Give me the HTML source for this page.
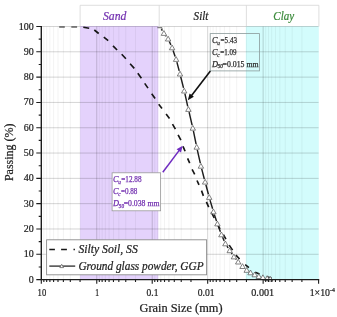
<!DOCTYPE html><html><head><meta charset="utf-8"><title>Grain size</title>
<style>html,body{margin:0;padding:0;background:#fff}svg{display:block}text{font-family:"Liberation Serif",serif;fill:#222;stroke:#222;stroke-width:.22px}</style></head><body>
<svg width="337" height="317" viewBox="0 0 337 317">
<rect width="337" height="317" fill="#fff"/>
<rect x="80.1" y="26.0" width="78.2" height="253.6" fill="#e4d2fc"/>
<rect x="245.8" y="26.2" width="73.0" height="253.4" fill="#d3fcfc"/>
<line x1="80.06" x2="80.06" y1="26.5" y2="279.6" stroke="#000" stroke-opacity="0.08" stroke-width="0.7"/>
<line x1="70.30" x2="70.30" y1="26.5" y2="279.6" stroke="#000" stroke-opacity="0.08" stroke-width="0.7"/>
<line x1="63.37" x2="63.37" y1="26.5" y2="279.6" stroke="#000" stroke-opacity="0.08" stroke-width="0.7"/>
<line x1="58.00" x2="58.00" y1="26.5" y2="279.6" stroke="#000" stroke-opacity="0.08" stroke-width="0.7"/>
<line x1="53.60" x2="53.60" y1="26.5" y2="279.6" stroke="#000" stroke-opacity="0.08" stroke-width="0.7"/>
<line x1="49.89" x2="49.89" y1="26.5" y2="279.6" stroke="#000" stroke-opacity="0.08" stroke-width="0.7"/>
<line x1="46.67" x2="46.67" y1="26.5" y2="279.6" stroke="#000" stroke-opacity="0.08" stroke-width="0.7"/>
<line x1="43.84" x2="43.84" y1="26.5" y2="279.6" stroke="#000" stroke-opacity="0.08" stroke-width="0.7"/>
<line x1="135.52" x2="135.52" y1="26.5" y2="279.6" stroke="#000" stroke-opacity="0.08" stroke-width="0.7"/>
<line x1="125.76" x2="125.76" y1="26.5" y2="279.6" stroke="#000" stroke-opacity="0.08" stroke-width="0.7"/>
<line x1="118.83" x2="118.83" y1="26.5" y2="279.6" stroke="#000" stroke-opacity="0.08" stroke-width="0.7"/>
<line x1="113.46" x2="113.46" y1="26.5" y2="279.6" stroke="#000" stroke-opacity="0.08" stroke-width="0.7"/>
<line x1="109.06" x2="109.06" y1="26.5" y2="279.6" stroke="#000" stroke-opacity="0.08" stroke-width="0.7"/>
<line x1="105.35" x2="105.35" y1="26.5" y2="279.6" stroke="#000" stroke-opacity="0.08" stroke-width="0.7"/>
<line x1="102.13" x2="102.13" y1="26.5" y2="279.6" stroke="#000" stroke-opacity="0.08" stroke-width="0.7"/>
<line x1="99.30" x2="99.30" y1="26.5" y2="279.6" stroke="#000" stroke-opacity="0.08" stroke-width="0.7"/>
<line x1="190.98" x2="190.98" y1="26.5" y2="279.6" stroke="#000" stroke-opacity="0.08" stroke-width="0.7"/>
<line x1="181.22" x2="181.22" y1="26.5" y2="279.6" stroke="#000" stroke-opacity="0.08" stroke-width="0.7"/>
<line x1="174.29" x2="174.29" y1="26.5" y2="279.6" stroke="#000" stroke-opacity="0.08" stroke-width="0.7"/>
<line x1="168.92" x2="168.92" y1="26.5" y2="279.6" stroke="#000" stroke-opacity="0.08" stroke-width="0.7"/>
<line x1="164.52" x2="164.52" y1="26.5" y2="279.6" stroke="#000" stroke-opacity="0.08" stroke-width="0.7"/>
<line x1="160.81" x2="160.81" y1="26.5" y2="279.6" stroke="#000" stroke-opacity="0.08" stroke-width="0.7"/>
<line x1="157.59" x2="157.59" y1="26.5" y2="279.6" stroke="#000" stroke-opacity="0.08" stroke-width="0.7"/>
<line x1="154.76" x2="154.76" y1="26.5" y2="279.6" stroke="#000" stroke-opacity="0.08" stroke-width="0.7"/>
<line x1="246.44" x2="246.44" y1="26.5" y2="279.6" stroke="#000" stroke-opacity="0.08" stroke-width="0.7"/>
<line x1="236.68" x2="236.68" y1="26.5" y2="279.6" stroke="#000" stroke-opacity="0.08" stroke-width="0.7"/>
<line x1="229.75" x2="229.75" y1="26.5" y2="279.6" stroke="#000" stroke-opacity="0.08" stroke-width="0.7"/>
<line x1="224.38" x2="224.38" y1="26.5" y2="279.6" stroke="#000" stroke-opacity="0.08" stroke-width="0.7"/>
<line x1="219.98" x2="219.98" y1="26.5" y2="279.6" stroke="#000" stroke-opacity="0.08" stroke-width="0.7"/>
<line x1="216.27" x2="216.27" y1="26.5" y2="279.6" stroke="#000" stroke-opacity="0.08" stroke-width="0.7"/>
<line x1="213.05" x2="213.05" y1="26.5" y2="279.6" stroke="#000" stroke-opacity="0.08" stroke-width="0.7"/>
<line x1="210.22" x2="210.22" y1="26.5" y2="279.6" stroke="#000" stroke-opacity="0.08" stroke-width="0.7"/>
<line x1="301.90" x2="301.90" y1="26.5" y2="279.6" stroke="#000" stroke-opacity="0.08" stroke-width="0.7"/>
<line x1="292.14" x2="292.14" y1="26.5" y2="279.6" stroke="#000" stroke-opacity="0.08" stroke-width="0.7"/>
<line x1="285.21" x2="285.21" y1="26.5" y2="279.6" stroke="#000" stroke-opacity="0.08" stroke-width="0.7"/>
<line x1="279.84" x2="279.84" y1="26.5" y2="279.6" stroke="#000" stroke-opacity="0.08" stroke-width="0.7"/>
<line x1="275.44" x2="275.44" y1="26.5" y2="279.6" stroke="#000" stroke-opacity="0.08" stroke-width="0.7"/>
<line x1="271.73" x2="271.73" y1="26.5" y2="279.6" stroke="#000" stroke-opacity="0.08" stroke-width="0.7"/>
<line x1="268.51" x2="268.51" y1="26.5" y2="279.6" stroke="#000" stroke-opacity="0.08" stroke-width="0.7"/>
<line x1="265.68" x2="265.68" y1="26.5" y2="279.6" stroke="#000" stroke-opacity="0.08" stroke-width="0.7"/>
<line x1="96.76" x2="96.76" y1="26.5" y2="279.6" stroke="#000" stroke-opacity="0.21" stroke-width="0.8"/>
<line x1="152.22" x2="152.22" y1="26.5" y2="279.6" stroke="#000" stroke-opacity="0.21" stroke-width="0.8"/>
<line x1="207.68" x2="207.68" y1="26.5" y2="279.6" stroke="#000" stroke-opacity="0.21" stroke-width="0.8"/>
<line x1="263.14" x2="263.14" y1="26.5" y2="279.6" stroke="#000" stroke-opacity="0.21" stroke-width="0.8"/>
<line x1="41.3" x2="318.6" y1="254.29" y2="254.29" stroke="#000" stroke-opacity="0.21" stroke-width="0.8"/>
<line x1="41.3" x2="318.6" y1="228.98" y2="228.98" stroke="#000" stroke-opacity="0.21" stroke-width="0.8"/>
<line x1="41.3" x2="318.6" y1="203.67" y2="203.67" stroke="#000" stroke-opacity="0.21" stroke-width="0.8"/>
<line x1="41.3" x2="318.6" y1="178.36" y2="178.36" stroke="#000" stroke-opacity="0.21" stroke-width="0.8"/>
<line x1="41.3" x2="318.6" y1="153.05" y2="153.05" stroke="#000" stroke-opacity="0.21" stroke-width="0.8"/>
<line x1="41.3" x2="318.6" y1="127.74" y2="127.74" stroke="#000" stroke-opacity="0.21" stroke-width="0.8"/>
<line x1="41.3" x2="318.6" y1="102.43" y2="102.43" stroke="#000" stroke-opacity="0.21" stroke-width="0.8"/>
<line x1="41.3" x2="318.6" y1="77.12" y2="77.12" stroke="#000" stroke-opacity="0.21" stroke-width="0.8"/>
<line x1="41.3" x2="318.6" y1="51.81" y2="51.81" stroke="#000" stroke-opacity="0.21" stroke-width="0.8"/>
<line x1="41.3" x2="318.6" y1="26.50" y2="26.50" stroke="#000" stroke-opacity="0.21" stroke-width="0.8"/>
<path d="M80.1 26.5 V5.3 H318.9 V26.5 M159.2 5.3 V26.5 M246.4 5.3 V26.5" fill="none" stroke="#d6d6d6" stroke-width="0.8"/>
<text x="114.7" y="19.8" font-size="12.4" font-style="italic" text-anchor="middle" textLength="23.4" lengthAdjust="spacingAndGlyphs" style="fill:#7331b0;stroke:#7331b0">Sand</text>
<text x="201" y="19.7" font-size="12.4" font-style="italic" text-anchor="middle" textLength="14.8" lengthAdjust="spacingAndGlyphs">Silt</text>
<text x="283.7" y="19.8" font-size="12.4" font-style="italic" text-anchor="middle" textLength="20.8" lengthAdjust="spacingAndGlyphs" style="fill:#3a8a3a;stroke:#3a8a3a">Clay</text>
<path d="M59.2 27 H64.8 M71.3 27 H77.1" fill="none" stroke="#161616" stroke-width="1.15"/>
<path d="M83.3 27.3 L89.2 28.3 M94.3 30.0 L98.7 33.5 M103.8 37.1 L108.2 40.6 M113 45.9 L117.1 50 M121.7 54.2 L125.9 58.7 M130.1 63.8 L134.3 68.4 M137.8 73.2 L141.4 78.2 M144.7 83.4 L148 88.1 M151.7 93.7 L155.1 98.4 M158.7 104.3 L162 108.4 M166.1 114 L169.5 118.6 M172.5 124.2 L175.4 129.2 M178.1 134.8 L180.9 140.1 M183 146.4 L185.1 151.3 M187.6 158.4 L189.7 163.1 M192.1 169.3 L194.7 174.3 M197 180.5 L199 184.8 M201.5 190.6 L203.4 195.9 M206.4 201.8 L208.7 207.1 M211.4 212.1 L214.2 218 M217.2 223.8 L220 229 M223.4 234.7 L225.9 239.2 M229.2 245.1 L232.6 250.1 M235.9 255.1 L239.6 259 M245.2 264.7 L248.9 267.6 M255.2 272.3 L259.5 274.1 M266.7 276.7 L271.6 278.2" fill="none" stroke="#161616" stroke-width="1.65"/>
<path d="M161.4 29.1 L162.3 30.7 M165.7 35.6 L166.3 36.4 M169.3 41.5 L170.9 44.9 M173.1 50.4 L175.1 56.4 M176.9 62.1 L179.2 70.9 M180.7 76.7 L183.5 87.9 M184.9 93.7 L187.7 106.3 M189.1 112.1 L192.1 125.1 M193.4 130.9 L196.1 144.1 M197.3 149.9 L200.3 163.1 M201.7 168.9 L204.3 179.0 M205.9 184.8 L208.4 194.3 M210.0 200.1 L212.6 208.7 M214.3 214.4 L216.5 220.9 M218.4 226.5 L220.4 231.8 M222.6 237.3 L224.2 240.9 M227.0 246.1 L228.1 248.0 M231.4 253.0 L232.2 254.2 M235.8 259.0 L236.3 259.5" fill="none" stroke="#1e1e1e" stroke-width="1.45"/>
<path d="M157.3 27.7 H162 V29.6" fill="none" stroke="#555" stroke-width="0.9"/>
<path d="M163.9 30.6 L166.6 35.4 L161.2 35.4 Z" fill="#fff" stroke="#5a5a5a" stroke-width="0.75"/>
<path d="M168.1 36.2 L170.8 41.0 L165.4 41.0 Z" fill="#fff" stroke="#5a5a5a" stroke-width="0.75"/>
<path d="M172.1 45.0 L174.8 49.8 L169.4 49.8 Z" fill="#fff" stroke="#5a5a5a" stroke-width="0.75"/>
<path d="M176.1 56.6 L178.8 61.4 L173.4 61.4 Z" fill="#fff" stroke="#5a5a5a" stroke-width="0.75"/>
<path d="M180.0 71.2 L182.7 76.0 L177.3 76.0 Z" fill="#fff" stroke="#5a5a5a" stroke-width="0.75"/>
<path d="M184.2 88.2 L186.9 93.0 L181.5 93.0 Z" fill="#fff" stroke="#5a5a5a" stroke-width="0.75"/>
<path d="M188.4 106.6 L191.1 111.4 L185.7 111.4 Z" fill="#fff" stroke="#5a5a5a" stroke-width="0.75"/>
<path d="M192.8 125.4 L195.5 130.2 L190.1 130.2 Z" fill="#fff" stroke="#5a5a5a" stroke-width="0.75"/>
<path d="M196.7 144.4 L199.4 149.2 L194.0 149.2 Z" fill="#fff" stroke="#5a5a5a" stroke-width="0.75"/>
<path d="M200.9 163.4 L203.6 168.2 L198.2 168.2 Z" fill="#fff" stroke="#5a5a5a" stroke-width="0.75"/>
<path d="M205.1 179.3 L207.8 184.1 L202.4 184.1 Z" fill="#fff" stroke="#5a5a5a" stroke-width="0.75"/>
<path d="M209.2 194.6 L211.9 199.4 L206.5 199.4 Z" fill="#fff" stroke="#5a5a5a" stroke-width="0.75"/>
<path d="M213.4 209.0 L216.1 213.8 L210.7 213.8 Z" fill="#fff" stroke="#5a5a5a" stroke-width="0.75"/>
<path d="M217.4 221.1 L220.1 225.9 L214.7 225.9 Z" fill="#fff" stroke="#5a5a5a" stroke-width="0.75"/>
<path d="M221.4 232.0 L224.1 236.8 L218.7 236.8 Z" fill="#fff" stroke="#5a5a5a" stroke-width="0.75"/>
<path d="M225.4 241.0 L228.1 245.8 L222.7 245.8 Z" fill="#fff" stroke="#5a5a5a" stroke-width="0.75"/>
<path d="M229.7 247.9 L232.4 252.7 L227.0 252.7 Z" fill="#fff" stroke="#5a5a5a" stroke-width="0.75"/>
<path d="M233.9 254.1 L236.6 258.9 L231.2 258.9 Z" fill="#fff" stroke="#5a5a5a" stroke-width="0.75"/>
<path d="M238.2 259.2 L240.9 264.0 L235.5 264.0 Z" fill="#fff" stroke="#5a5a5a" stroke-width="0.75"/>
<path d="M242.5 263.7 L245.2 268.5 L239.8 268.5 Z" fill="#fff" stroke="#5a5a5a" stroke-width="0.75"/>
<path d="M246.7 267.5 L249.4 272.3 L244.0 272.3 Z" fill="#fff" stroke="#5a5a5a" stroke-width="0.75"/>
<path d="M250.5 270.0 L253.2 274.8 L247.8 274.8 Z" fill="#fff" stroke="#5a5a5a" stroke-width="0.75"/>
<path d="M254.7 272.0 L257.4 276.8 L252.0 276.8 Z" fill="#fff" stroke="#5a5a5a" stroke-width="0.75"/>
<path d="M258.8 273.7 L261.5 278.5 L256.1 278.5 Z" fill="#fff" stroke="#5a5a5a" stroke-width="0.75"/>
<path d="M262.9 274.8 L265.6 279.6 L260.2 279.6 Z" fill="#fff" stroke="#5a5a5a" stroke-width="0.75"/>
<path d="M267.2 275.7 L269.9 280.5 L264.5 280.5 Z" fill="#fff" stroke="#5a5a5a" stroke-width="0.75"/>
<path d="M270.2 276.3 L272.9 281.1 L267.5 281.1 Z" fill="#fff" stroke="#5a5a5a" stroke-width="0.75"/>
<rect x="210.2" y="33.6" width="49.2" height="37.3" fill="none" stroke="#8a9a9a" stroke-width="0.8"/>
<text x="212" y="43" font-size="8.4" font-style="italic" style="fill:#2e2e2e;stroke:#2e2e2e;stroke-width:0.25px">C</text>
<text x="217.2" y="44.7" font-size="5.2" font-style="italic" style="fill:#2e2e2e;stroke:#2e2e2e;stroke-width:0.25px">u</text>
<text x="220.6" y="43" font-size="8.2" style="fill:#2e2e2e;stroke:#2e2e2e;stroke-width:0.25px" textLength="16.4" lengthAdjust="spacingAndGlyphs">=5.43</text>
<text x="212" y="54.9" font-size="8.4" font-style="italic" style="fill:#2e2e2e;stroke:#2e2e2e;stroke-width:0.25px">C</text>
<text x="217.2" y="56.6" font-size="5.2" font-style="italic" style="fill:#2e2e2e;stroke:#2e2e2e;stroke-width:0.25px">c</text>
<text x="220.2" y="54.9" font-size="8.2" style="fill:#2e2e2e;stroke:#2e2e2e;stroke-width:0.25px" textLength="16.2" lengthAdjust="spacingAndGlyphs">=1.09</text>
<text x="212" y="66.5" font-size="8.4" font-style="italic" style="fill:#2e2e2e;stroke:#2e2e2e;stroke-width:0.25px">D</text>
<text x="217.7" y="68.2" font-size="5.2" font-style="italic" style="fill:#2e2e2e;stroke:#2e2e2e;stroke-width:0.25px">50</text>
<text x="222.6" y="66.5" font-size="8.2" style="fill:#2e2e2e;stroke:#2e2e2e;stroke-width:0.25px" textLength="36" lengthAdjust="spacingAndGlyphs">=0.015 mm</text>
<path d="M210.4 70.9 L191.2 95.9" stroke="#111" stroke-width="1.6" fill="none"/>
<path d="M187.8 100.3 L189.6 93.5 L193.9 96.8 Z" fill="#111"/>
<rect x="112.1" y="172.8" width="48.5" height="38" fill="#fff" stroke="#999" stroke-width="0.8"/>
<text x="113.1" y="182.1" font-size="8.4" font-style="italic" style="fill:#7331b0;stroke:#7331b0;stroke-width:0.25px">C</text>
<text x="118.3" y="183.79999999999998" font-size="5.2" font-style="italic" style="fill:#7331b0;stroke:#7331b0;stroke-width:0.25px">u</text>
<text x="121.3" y="182.1" font-size="8.2" style="fill:#7331b0;stroke:#7331b0;stroke-width:0.25px" textLength="20.2" lengthAdjust="spacingAndGlyphs">=12.88</text>
<text x="113.1" y="194" font-size="8.4" font-style="italic" style="fill:#7331b0;stroke:#7331b0;stroke-width:0.25px">C</text>
<text x="118.3" y="195.7" font-size="5.2" font-style="italic" style="fill:#7331b0;stroke:#7331b0;stroke-width:0.25px">c</text>
<text x="120.89999999999999" y="194" font-size="8.2" style="fill:#7331b0;stroke:#7331b0;stroke-width:0.25px" textLength="16.4" lengthAdjust="spacingAndGlyphs">=0.88</text>
<text x="113.1" y="206" font-size="8.4" font-style="italic" style="fill:#7331b0;stroke:#7331b0;stroke-width:0.25px">D</text>
<text x="118.8" y="207.7" font-size="5.2" font-style="italic" style="fill:#7331b0;stroke:#7331b0;stroke-width:0.25px">50</text>
<text x="123.69999999999999" y="206" font-size="8.2" style="fill:#7331b0;stroke:#7331b0;stroke-width:0.25px" textLength="35.8" lengthAdjust="spacingAndGlyphs">=0.038 mm</text>
<path d="M162.8 172.2 L179.4 150.1" stroke="#6f2cc0" stroke-width="1.5" fill="none"/>
<path d="M182.7 145.7 L181.0 152.5 L176.6 149.3 Z" fill="#6f2cc0"/>
<rect x="46.6" y="239.8" width="160" height="35" fill="#fff" stroke="#8c8c8c" stroke-width="0.9"/>
<path d="M49.3 249.5 H54.9 M61.1 249.5 H66.9 M73.5 249.5 H74.9" stroke="#161616" stroke-width="1.6" fill="none"/>
<path d="M49.3 266.1 H75.2" stroke="#2a2a2a" stroke-width="1.3" fill="none"/>
<path d="M61.7 264.3 L63.6 267.6 L59.8 267.6 Z" fill="#fff" stroke="#5a5a5a" stroke-width="0.75"/>
<text x="78.4" y="253.4" font-size="11.9" font-style="italic" textLength="59.4" lengthAdjust="spacingAndGlyphs">Silty Soil, SS</text>
<text x="78.4" y="269.8" font-size="11.9" font-style="italic" textLength="125.2" lengthAdjust="spacingAndGlyphs">Ground glass powder, GGP</text>
<path d="M41.3 25.9 V279.6 M40.599999999999994 279.6 H319.2" stroke="#1c1c1c" stroke-width="1.4" fill="none"/>
<path d="M36.3 279.60 H41.3 M38.7 266.95 H41.3 M36.3 254.29 H41.3 M38.7 241.64 H41.3 M36.3 228.98 H41.3 M38.7 216.33 H41.3 M36.3 203.67 H41.3 M38.7 191.02 H41.3 M36.3 178.36 H41.3 M38.7 165.70 H41.3 M36.3 153.05 H41.3 M38.7 140.40 H41.3 M36.3 127.74 H41.3 M38.7 115.09 H41.3 M36.3 102.43 H41.3 M38.7 89.78 H41.3 M36.3 77.12 H41.3 M38.7 64.46 H41.3 M36.3 51.81 H41.3 M38.7 39.15 H41.3 M36.3 26.50 H41.3 M41.30 279.6 V283.8 M80.06 279.6 V282.0 M70.30 279.6 V282.0 M63.37 279.6 V282.0 M58.00 279.6 V282.0 M53.60 279.6 V282.0 M49.89 279.6 V282.0 M46.67 279.6 V282.0 M43.84 279.6 V282.0 M96.76 279.6 V283.8 M135.52 279.6 V282.0 M125.76 279.6 V282.0 M118.83 279.6 V282.0 M113.46 279.6 V282.0 M109.06 279.6 V282.0 M105.35 279.6 V282.0 M102.13 279.6 V282.0 M99.30 279.6 V282.0 M152.22 279.6 V283.8 M190.98 279.6 V282.0 M181.22 279.6 V282.0 M174.29 279.6 V282.0 M168.92 279.6 V282.0 M164.52 279.6 V282.0 M160.81 279.6 V282.0 M157.59 279.6 V282.0 M154.76 279.6 V282.0 M207.68 279.6 V283.8 M246.44 279.6 V282.0 M236.68 279.6 V282.0 M229.75 279.6 V282.0 M224.38 279.6 V282.0 M219.98 279.6 V282.0 M216.27 279.6 V282.0 M213.05 279.6 V282.0 M210.22 279.6 V282.0 M263.14 279.6 V283.8 M301.90 279.6 V282.0 M292.14 279.6 V282.0 M285.21 279.6 V282.0 M279.84 279.6 V282.0 M275.44 279.6 V282.0 M271.73 279.6 V282.0 M268.51 279.6 V282.0 M265.68 279.6 V282.0 M318.60 279.6 V283.8" stroke="#1c1c1c" stroke-width="1.1" fill="none"/>
<text x="33.7" y="282.6" font-size="11" text-anchor="end" textLength="5" lengthAdjust="spacingAndGlyphs">0</text>
<text x="33.7" y="257.3" font-size="11" text-anchor="end" textLength="10" lengthAdjust="spacingAndGlyphs">10</text>
<text x="33.7" y="232.0" font-size="11" text-anchor="end" textLength="10" lengthAdjust="spacingAndGlyphs">20</text>
<text x="33.7" y="206.7" font-size="11" text-anchor="end" textLength="10" lengthAdjust="spacingAndGlyphs">30</text>
<text x="33.7" y="181.4" font-size="11" text-anchor="end" textLength="10" lengthAdjust="spacingAndGlyphs">40</text>
<text x="33.7" y="156.1" font-size="11" text-anchor="end" textLength="10" lengthAdjust="spacingAndGlyphs">50</text>
<text x="33.7" y="130.7" font-size="11" text-anchor="end" textLength="10" lengthAdjust="spacingAndGlyphs">60</text>
<text x="33.7" y="105.4" font-size="11" text-anchor="end" textLength="10" lengthAdjust="spacingAndGlyphs">70</text>
<text x="33.7" y="80.1" font-size="11" text-anchor="end" textLength="10" lengthAdjust="spacingAndGlyphs">80</text>
<text x="33.7" y="54.8" font-size="11" text-anchor="end" textLength="10" lengthAdjust="spacingAndGlyphs">90</text>
<text x="33.7" y="29.5" font-size="11" text-anchor="end" textLength="15" lengthAdjust="spacingAndGlyphs">100</text>
<text x="41.9" y="295.6" font-size="11" text-anchor="middle" textLength="8.6" lengthAdjust="spacingAndGlyphs">10</text>
<text x="97.1" y="295.6" font-size="11" text-anchor="middle" textLength="3.8" lengthAdjust="spacingAndGlyphs">1</text>
<text x="152.5" y="295.6" font-size="11" text-anchor="middle" textLength="11.9" lengthAdjust="spacingAndGlyphs">0.1</text>
<text x="206.1" y="295.6" font-size="11" text-anchor="middle" textLength="16.9" lengthAdjust="spacingAndGlyphs">0.01</text>
<text x="262.7" y="295.6" font-size="11" text-anchor="middle" textLength="22.9" lengthAdjust="spacingAndGlyphs">0.001</text>
<text x="309.7" y="295.6" font-size="11" textLength="25.2" lengthAdjust="spacingAndGlyphs">1×10<tspan font-size="6.5" dy="-4">-4</tspan></text>
<text x="181" y="311.7" font-size="11.8" text-anchor="middle" textLength="83" lengthAdjust="spacingAndGlyphs">Grain Size (mm)</text>
<text transform="translate(12.6 152.3) rotate(-90)" font-size="11.8" text-anchor="middle" textLength="57.5" lengthAdjust="spacingAndGlyphs">Passing (%)</text>
</svg></body></html>
